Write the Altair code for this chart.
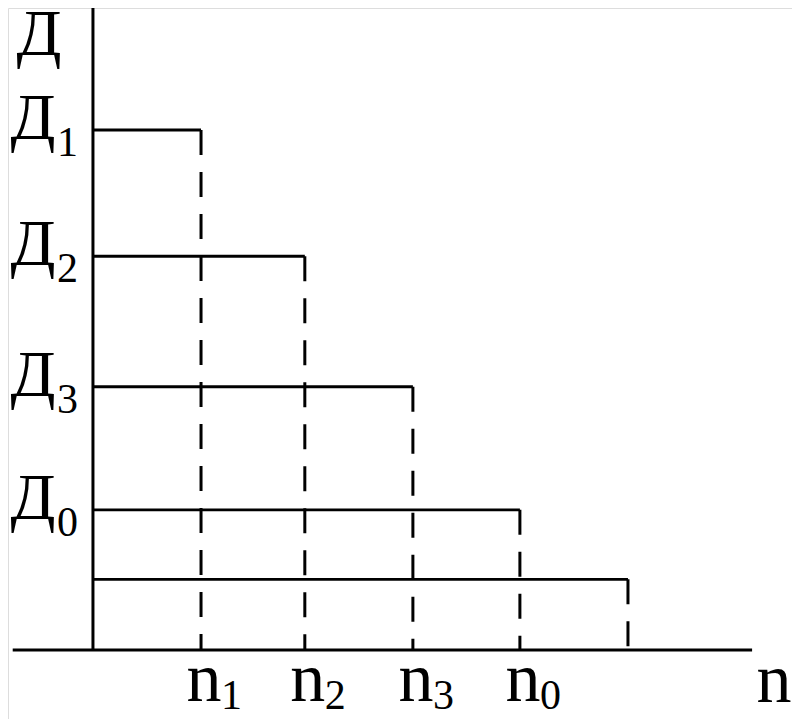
import altair as alt
import pandas as pd

# values (x in units of n-step, y in same units)
n_values = [1.01, 1.98, 2.99, 3.99, 5.0]
d_values = [4.86, 3.68, 2.46, 1.31, 0.66]
n_subs = ["1", "2", "3", "0", ""]
d_subs = ["1", "2", "3", "0", ""]
axis_x_range = [-0.75, 6.16]
axis_y_top = 6.03

steps = pd.DataFrame({"n": n_values, "d": d_values, "nsub": n_subs, "dsub": d_subs})
labeled = steps[steps["nsub"] != ""]
axes_h = pd.DataFrame({"x": [axis_x_range[0]], "x2": [axis_x_range[1]], "y": [0.0]})
axes_v = pd.DataFrame({"x": [0.0], "y": [0.0], "y2": [axis_y_top]})
corner = pd.DataFrame({"x": [0.0], "y": [axis_y_top], "xe": [axis_x_range[1]], "ye": [0.0]})

xs = alt.Scale(domain=[-0.794, 6.533], nice=False, zero=False)
ys = alt.Scale(domain=[-0.645, 6.0], nice=False, zero=False)
FONT = "Liberation Serif"

def X(f):
    return alt.X(f, type="quantitative", scale=xs, axis=None)

def Y(f):
    return alt.Y(f, type="quantitative", scale=ys, axis=None)

base = alt.Chart(steps).transform_calculate(zero="0")

horiz = base.mark_rule(color="black", strokeWidth=2.8).encode(
    x=X("zero"), x2="n:Q", y=Y("d"))
dashed = base.mark_rule(color="black", strokeWidth=3, strokeDash=[25, 17]).encode(
    x=X("n"), y=Y("d"), y2="zero:Q")

xaxis = alt.Chart(axes_h).mark_rule(color="black", strokeWidth=3).encode(
    x=X("x"), x2="x2:Q", y=Y("y"))
yaxis = alt.Chart(axes_v).mark_rule(color="black", strokeWidth=3).encode(
    x=X("x"), y=Y("y"), y2="y2:Q")

lab_base = alt.Chart(labeled).transform_calculate(zero="0", D="'Д'", N="'n'")

d_main = lab_base.mark_text(font=FONT, fontSize=66, align="center", baseline="alphabetic",
                            dx=-60, dy=9, color="black").encode(
    x=X("zero"), y=Y("d"), text="D:N")
d_sub = lab_base.mark_text(font=FONT, fontSize=42, align="left", baseline="alphabetic",
                           dx=-36, dy=26, color="black").encode(
    x=X("zero"), y=Y("d"), text="dsub:N")
n_main = lab_base.mark_text(font=FONT, fontSize=70, align="center", baseline="alphabetic",
                            dx=3, dy=51, color="black").encode(
    x=X("n"), y=Y("zero"), text="N:N")
n_sub = lab_base.mark_text(font=FONT, fontSize=42, align="left", baseline="alphabetic",
                           dx=20, dy=59, color="black").encode(
    x=X("n"), y=Y("zero"), text="nsub:N")

corner_base = alt.Chart(corner).transform_calculate(D="'Д'", N="'n'")
top_label = corner_base.mark_text(font=FONT, fontSize=66, align="center", baseline="alphabetic",
                                  dx=-54, dy=50, color="black").encode(
    x=X("x"), y=Y("y"), text="D:N")
end_label = corner_base.mark_text(font=FONT, fontSize=70, align="center", baseline="alphabetic",
                                  dx=22, dy=52, color="black").encode(
    x=X("xe"), y=Y("ye"), text="N:N")

chart = alt.layer(horiz, dashed, xaxis, yaxis, d_main, d_sub, n_main, n_sub,
                  top_label, end_label).properties(
    width=784, height=711, autosize="none", padding=0
).configure_view(strokeWidth=0).configure(background="white")

chart.save("out.html", embed_options={"renderer": "svg", "actions": False})
